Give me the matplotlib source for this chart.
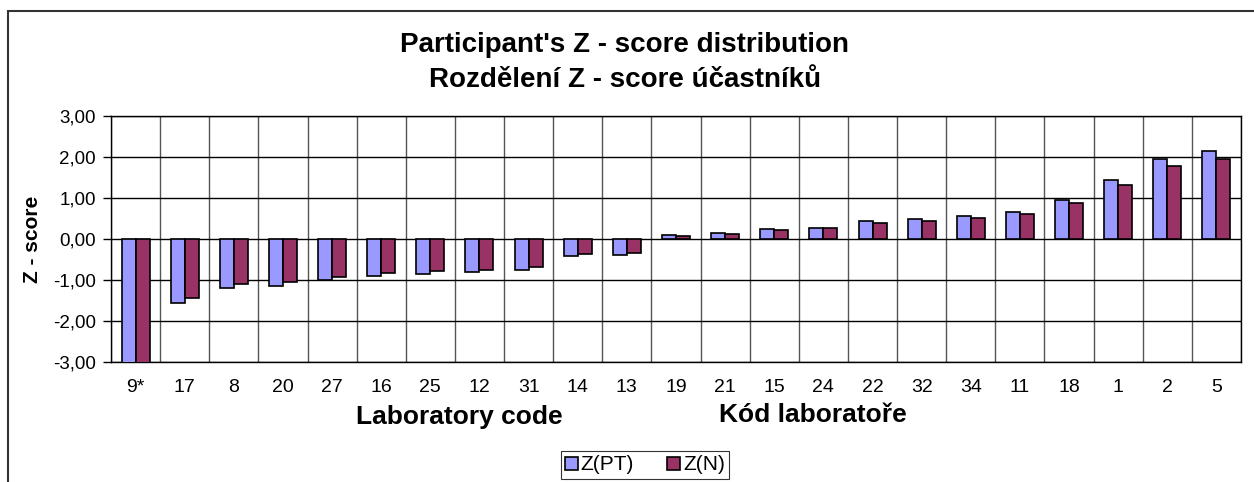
import matplotlib
matplotlib.use("Agg")
import matplotlib.pyplot as plt
import numpy as np
from matplotlib.patches import Rectangle
from matplotlib.ticker import FuncFormatter

plt.rcParams['font.family'] = ['Liberation Sans', 'DejaVu Sans']

labs = ["9*", "17", "8", "20", "27", "16", "25", "12", "31", "14", "13", "19",
        "21", "15", "24", "22", "32", "34", "11", "18", "1", "2", "5"]
z_pt = [-3.6, -1.57, -1.20, -1.15, -1.00, -0.91, -0.86, -0.81, -0.76, -0.42, -0.38, 0.10,
        0.15, 0.24, 0.28, 0.43, 0.48, 0.57, 0.66, 0.96, 1.44, 1.95, 2.15]
z_n = [-3.4, -1.45, -1.09, -1.05, -0.92, -0.83, -0.79, -0.75, -0.69, -0.37, -0.34, 0.08,
       0.13, 0.21, 0.26, 0.38, 0.43, 0.52, 0.60, 0.87, 1.31, 1.78, 1.95]

fig = plt.figure(figsize=(12.54, 4.82), dpi=100)
ax = fig.add_axes([111/1254, 1-362/482, (1241-111)/1254, (362-116)/482])

x = np.arange(len(labs))
w = 0.285
ax.bar(x - w/2, z_pt, w, color="#9999FF", edgecolor="black", linewidth=1.2, label="Z(PT)", zorder=3)
ax.bar(x + w/2, z_n, w, color="#993366", edgecolor="black", linewidth=1.2, label="Z(N)", zorder=3)

ax.set_xlim(-0.5, len(labs) - 0.5)
ax.set_ylim(-3, 3)
ax.set_yticks(np.arange(-3, 4, 1))
ax.yaxis.set_major_formatter(FuncFormatter(lambda v, p: f"{v:.2f}".replace(".", ",")))
ax.set_xticks(x)
ax.set_xticklabels(labs, fontsize=14)
ax.tick_params(axis='x', length=0, pad=12)
ax.tick_params(axis='y', labelsize=13.5, length=6, width=1, direction='out', pad=5)
ax.set_xticks(np.arange(-0.5, len(labs), 1), minor=True)
ax.tick_params(axis='x', which='minor', length=0)
ax.grid(axis='x', which='minor', color='#555555', linewidth=1.0, zorder=0)
ax.grid(axis='y', which='major', color='black', linewidth=1.0, zorder=0)
for s in ax.spines.values():
    s.set_color('black')
    s.set_linewidth(1.0)

ax.set_ylabel("Z - score", fontsize=15, fontweight='bold', labelpad=8)

fig.text(625/1254, 1-45/482, "Participant's Z - score distribution", ha='center', va='center',
         fontsize=20, fontweight='bold')
fig.text(625/1254, 1-80/482, "Rozdělení Z - score účastníků", ha='center', va='center',
         fontsize=20, fontweight='bold')
fig.text(459/1254, 1-417/482, "Laboratory code", ha='center', va='center', fontsize=19, fontweight='bold')
fig.text(813/1254, 1-415/482, "Kód laboratoře", ha='center', va='center', fontsize=19, fontweight='bold')

leg = fig.legend(loc='center', bbox_to_anchor=(645/1254, 1-465/482), ncol=2, fontsize=15,
                 frameon=True, fancybox=False, edgecolor='black', handlelength=0.6,
                 handleheight=0.6, handletextpad=0.15, columnspacing=1.6, borderpad=0.2)
leg.get_frame().set_linewidth(0.8)

fig.patches.append(Rectangle((8/1254, -0.1), 1.2, 1.1 - 11/482, transform=fig.transFigure,
                             fill=False, edgecolor='#333333', linewidth=1.5))

fig.savefig("out.png", dpi=100)
